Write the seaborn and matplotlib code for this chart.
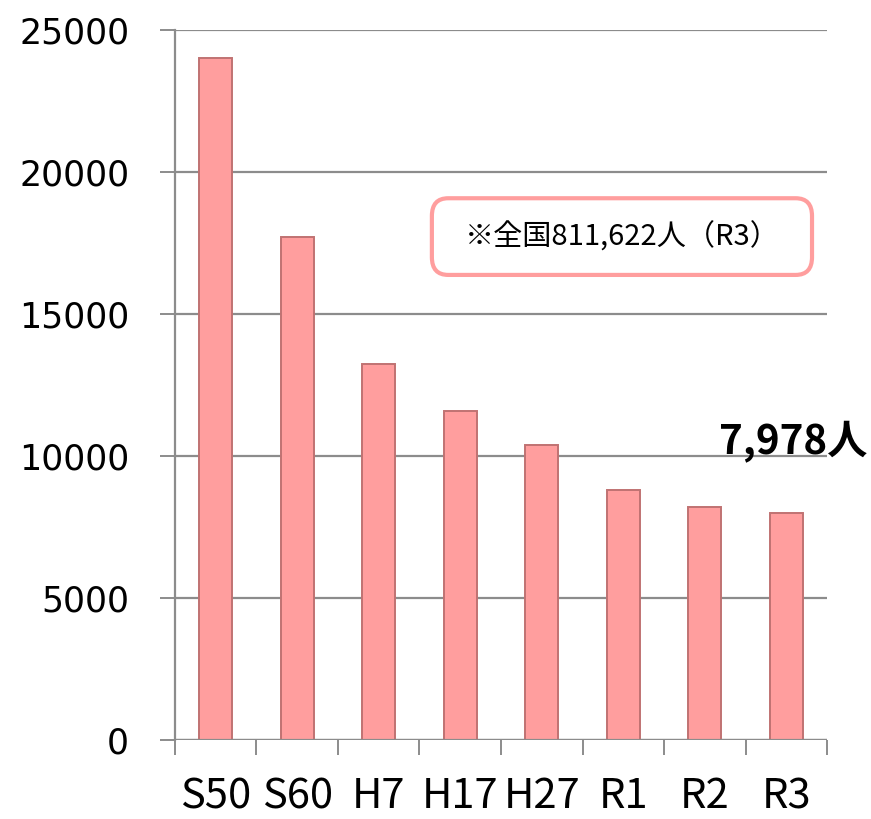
import matplotlib
matplotlib.use("Agg")
import matplotlib.pyplot as plt
from matplotlib.patches import FancyBboxPatch
import seaborn as sns
import pandas as pd

categories = ["S50", "S60", "H7", "H17", "H27", "R1", "R2", "R3"]
values = [24000, 17700, 13250, 11580, 10380, 8800, 8200, 7978]
yticks = [0, 5000, 10000, 15000, 20000, 25000]
note_text = "※全国811,622人（R3）"
last_label = "7,978人"

df = pd.DataFrame({"cat": categories, "val": values})

sns.set_theme(style="white")
plt.rcParams["font.family"] = ["DejaVu Sans", "Noto Sans CJK JP"]
plt.rcParams["text.color"] = "black"
cjk = ["Noto Sans CJK JP", "DejaVu Sans"]

fig = plt.figure(figsize=(8.71, 8.19), dpi=100)
ax = fig.add_axes([0.2009, 0.0965, 0.7486, 0.8669])

sns.barplot(data=df, x="cat", y="val", ax=ax, width=0.4, color="#FF9E9E",
            saturation=1, edgecolor="#C07272", linewidth=1.4, zorder=3)

ax.set_ylim(0, 25000)
ax.set_xlim(-0.5, len(categories) - 0.5)
ax.set_yticks(yticks)
ax.set_yticklabels([str(v) for v in yticks], fontsize=25, family="DejaVu Sans")
ax.yaxis.grid(True, color="#8C8C8C", linewidth=1.6, zorder=0)
ax.set_axisbelow(True)
ax.set_xlabel("")
ax.set_ylabel("")

for s in ["top", "right", "bottom"]:
    ax.spines[s].set_visible(False)
ax.spines["left"].set_color("#8C8C8C")
ax.spines["left"].set_linewidth(1.6)
ax.axhline(0, color="#8C8C8C", linewidth=1.6, zorder=4)

ax.tick_params(axis="y", which="major", length=11, width=1.4, color="#8C8C8C",
               pad=22, left=True, labelcolor="black")

ax.set_xticks(range(len(categories)))
ax.set_xticklabels(categories, fontsize=30, family=cjk)
ax.tick_params(axis="x", which="major", length=0, pad=26, labelcolor="black")
ax.set_xticks([i - 0.5 for i in range(len(categories) + 1)], minor=True)
ax.tick_params(axis="x", which="minor", length=11, width=1.4, color="#8C8C8C",
               bottom=True)

# note box
box = FancyBboxPatch((0.394, 0.655), 0.583, 0.108, transform=ax.transAxes,
                     boxstyle="round,pad=0,rounding_size=0.025",
                     facecolor="white", edgecolor="#FF9E9E", linewidth=3, zorder=5)
ax.add_patch(box)
ax.text(0.686, 0.708, note_text, transform=ax.transAxes, ha="center", va="center",
        fontsize=21, family=cjk, color="black", zorder=6)

ax.text(7.09, 10500, last_label, ha="center", va="center", fontsize=29,
        fontweight="bold", family=cjk, color="black", clip_on=False, zorder=6)

fig.savefig("out.png", dpi=100)
